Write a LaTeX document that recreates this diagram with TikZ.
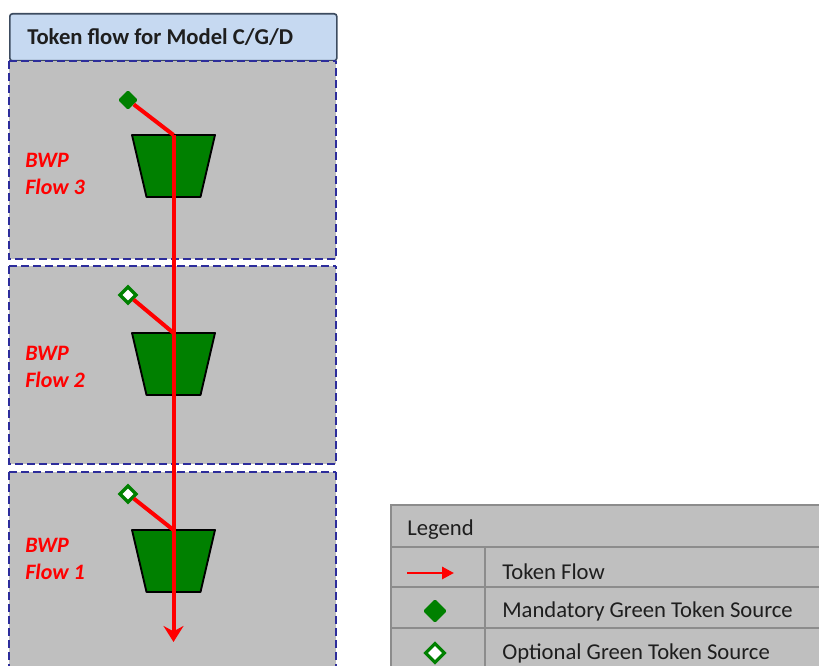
\documentclass[tikz,border=0pt]{standalone}
\usepackage{fontspec}
\setmainfont{Carlito}
\usetikzlibrary{shapes.geometric,arrows.meta}
\definecolor{panelgray}{RGB}{191,191,191}
\definecolor{dashblue}{RGB}{45,45,155}
\definecolor{titleblue}{RGB}{198,217,241}
\definecolor{titleborder}{RGB}{60,75,95}
\definecolor{tokgreen}{RGB}{0,128,0}
\definecolor{legline}{RGB}{140,140,140}
\definecolor{txt}{RGB}{30,30,30}
\definecolor{flowred}{RGB}{255,0,0}
\begin{document}
\begin{tikzpicture}[x=0.75pt,y=-0.75pt,
  panelfill/.style={fill=panelgray},
  panelborder/.style={draw=dashblue, line width=1.7pt, dash pattern=on 6pt off 3pt},
  bucket/.style={fill=tokgreen, draw=black, line width=1.4pt, line join=round},
  mandsrc/.style={diamond, minimum size=15pt, inner sep=0pt, fill=tokgreen, rounded corners=1pt},
  optsrc/.style={diamond, minimum size=13pt, inner sep=0pt, fill=white, draw=tokgreen, line width=2.4pt},
  flow/.style={draw=flowred, line width=3pt},
  bwp/.style={anchor=west, align=left, text=flowred, font=\fontsize{16.5}{20}\selectfont\bfseries\itshape},
  legtext/.style={anchor=west, text=txt, font=\fontsize{17}{20}\selectfont},
  legrule/.style={draw=legline, line width=1.6pt}
]
\useasboundingbox (0,0) rectangle (819,666);

% title
\node[draw=titleborder, line width=1.2pt, fill=titleblue, rounded corners=2pt,
      minimum width=327*0.75pt, minimum height=47*0.75pt, inner sep=0pt, anchor=north west] (title) at (9,13) {};
\node[anchor=west, text=txt, font=\fontsize{17}{20}\selectfont\bfseries, inner sep=0pt] (titletext) at (27,37) {Token flow for Model C/G/D};

% panels
\fill[panelfill] (9,61) rectangle (336,259);
\fill[panelfill] (9,266) rectangle (336,464);
\fill[panelfill] (9,472) rectangle (336,700);
\draw[panelborder] (9,61) -- (336,61);
\draw[panelborder] (9,61) -- (9,259) -- (336,259) -- (336,61);
\draw[panelborder] (9,266) -- (336,266);
\draw[panelborder] (9,266) -- (9,464) -- (336,464) -- (336,266);
\draw[panelborder] (9,472) -- (336,472);
\draw[panelborder] (9,472) -- (9,700);
\draw[panelborder] (336,472) -- (336,700);

% labels
\node[bwp, inner sep=0pt] (lab3) at (25,174) {BWP\\Flow 3};
\node[bwp, inner sep=0pt] (lab2) at (25,367) {BWP\\Flow 2};
\node[bwp, inner sep=0pt] (lab1) at (25,559) {BWP\\Flow 1};

% buckets (top-centre points)
\coordinate (t3) at (173.5,135);
\coordinate (t2) at (173.5,333);
\coordinate (t1) at (173.5,530);
\foreach \t in {t3,t2,t1}
  \draw[bucket, shift={(\t)}] (-41.5,0) -- (41.5,0) -- (27,62) -- (-27,62) -- cycle;

% sources
\node[mandsrc] (d3) at (128,100) {};
\node[optsrc] (d2) at (128,295) {};
\node[optsrc] (d1) at (128,494) {};

\coordinate (end) at (173.5,642);

% flows
\draw[flow] (d3) -- (t3);
\draw[flow] (d2) -- (t2);
\draw[flow] (d1) -- (t1);
\draw[flow, -{Stealth[length=12pt, width=15pt, inset=4pt]}] (t3) -- (end);

% legend
\fill[panelgray] (391,505) rectangle (830,680);
\draw[legrule] (391,680) -- (391,505) -- (830,505);
\draw[legrule] (391,547) -- (830,547);
\draw[legrule] (391,587) -- (830,587);
\draw[legrule] (391,628) -- (830,628);
\draw[legrule] (485,547) -- (485,680);
\node[legtext, inner sep=0pt] (legtitle) at (407,530) {Legend};
\node[legtext, inner sep=0pt] (legflow) at (502,572) {Token Flow};
\node[legtext, inner sep=0pt] (legmand) at (502,611) {Mandatory Green Token Source};
\node[legtext, inner sep=0pt] (legopt) at (502,653) {Optional Green Token Source};
\coordinate (la) at (407,573);
\coordinate (lb) at (454,573);
\draw[draw=flowred, line width=2.2pt, -{Triangle[length=9pt, width=9pt]}] (la) -- (lb);
\node[mandsrc, minimum size=18pt] (legd1) at (435,611) {};
\node[optsrc, minimum size=15pt] (legd2) at (435,653) {};
\end{tikzpicture}
\end{document}
